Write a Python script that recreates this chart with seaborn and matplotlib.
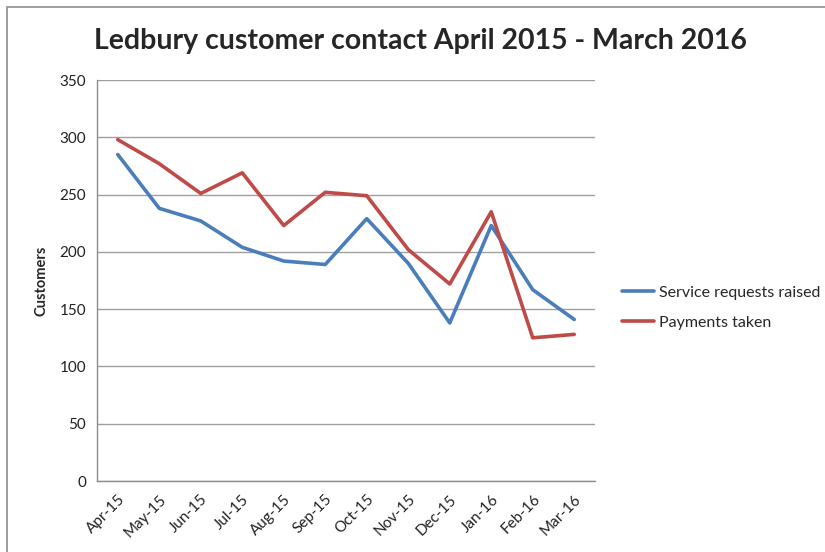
import matplotlib
matplotlib.use("Agg")
import matplotlib.pyplot as plt
from matplotlib.patches import Rectangle
import seaborn as sns
import pandas as pd

months = ["Apr-15", "May-15", "Jun-15", "Jul-15", "Aug-15", "Sep-15",
          "Oct-15", "Nov-15", "Dec-15", "Jan-16", "Feb-16", "Mar-16"]
service_requests = [285, 238, 227, 204, 192, 189, 229, 190, 138, 223, 167, 141]
payments_taken = [298, 277, 251, 269, 223, 252, 249, 202, 172, 235, 125, 128]
series_names = ["Service requests raised", "Payments taken"]
y_ticks = [0, 50, 100, 150, 200, 250, 300, 350]

df = pd.DataFrame({
    "Month": months * 2,
    "Customers": service_requests + payments_taken,
    "Series": [series_names[0]] * len(months) + [series_names[1]] * len(months),
})

sns.set_style("white")
plt.rcParams["font.family"] = ["Lato", "DejaVu Sans"]

fig = plt.figure(figsize=(8.25, 5.52), dpi=100)
ax = fig.add_axes([0.1176, 0.1286, 0.6036, 0.7264])

sns.lineplot(data=df, x="Month", y="Customers", hue="Series",
             palette=["#4A7EBB", "#BE4B48"], linewidth=2.6, sort=False,
             ax=ax, legend=True)

ax.set_xlim(-0.5, len(months) - 0.5)
ax.set_ylim(0, 350)
ax.set_yticks(y_ticks)
ax.yaxis.grid(True, color="#A0A0A0", linewidth=1.0)
ax.set_axisbelow(True)
for side in ["top", "right"]:
    ax.spines[side].set_visible(False)
for side in ["left", "bottom"]:
    ax.spines[side].set_color("#8C8C8C")
    ax.spines[side].set_linewidth(1.0)
ax.tick_params(axis="both", length=0, labelsize=11, colors="#222222", pad=8)
plt.setp(ax.get_xticklabels(), rotation=45, ha="right", rotation_mode="anchor")

ax.set_xlabel("")
ax.set_ylabel("Customers", fontsize=10.5, fontweight="bold", labelpad=8)

leg = ax.legend(loc="center left", bbox_to_anchor=(1.025, 0.432), frameon=False,
                fontsize=11.5, handlelength=2.0, labelspacing=1.0, handletextpad=0.35)
for line in leg.get_lines():
    line.set_linewidth(2.6)

fig.text(0.51, 0.925, "Ledbury customer contact April 2015 - March 2016",
         ha="center", va="center", fontsize=20.5, fontweight="bold")

fig.patches.append(Rectangle((7 / 825, -0.05), 1.2, 1 - 7 / 552 + 0.05,
                             transform=fig.transFigure, fill=False,
                             edgecolor="#8C8C8C", linewidth=1.2))

fig.savefig("out.png", dpi=100)
